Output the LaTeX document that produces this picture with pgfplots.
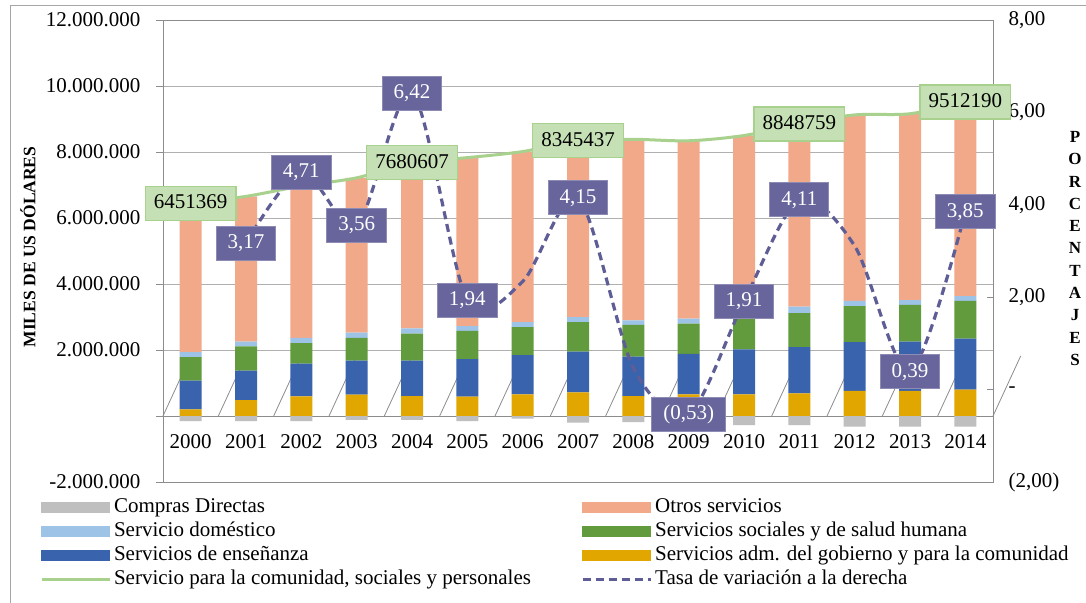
\documentclass[border=0pt]{standalone}
\usepackage{pgfplots}
\usepackage{pgfplotstable}
\pgfplotsset{compat=1.18}
\usepackage{fontspec}
\setmainfont{Liberation Serif}
\definecolor{cgray}{HTML}{BFBFBF}
\definecolor{corange}{HTML}{F1A98A}
\definecolor{cltblue}{HTML}{9DC3E6}
\definecolor{cgreen}{HTML}{629A3E}
\definecolor{cblue}{HTML}{3A63AD}
\definecolor{cyellow}{HTML}{E2A600}
\definecolor{cline}{HTML}{A9D18E}
\definecolor{cpurple}{HTML}{5F5D96}
\definecolor{cpurplebox}{HTML}{67659B}
\definecolor{cgreenbox}{HTML}{C5E0B4}
\definecolor{cgrid}{HTML}{B0B0B0}
\definecolor{caxis}{HTML}{8C8C8C}
\definecolor{cframe}{HTML}{A6A6A6}
\newcommand\tickfont{\fontsize{21bp}{24bp}\selectfont}
\newcommand\labfont{\fontsize{21bp}{24bp}\selectfont}

\pgfplotstableread{
x yel blu grn lbl ora cd tot
0 202000 869000 717000 151000 4512369 -152000 6451369
1 485000 889000 737000 141000 4403877 -152000 6655877
2 596000 990000 626000 152000 4605369 -152000 6969369
3 646000 1031000 687000 161000 4692479 -121000 7217479
4 606000 1071000 818000 162000 5023607 -121000 7680607
5 586000 1141000 849000 151000 5102611 -152000 7829611
6 657000 1191000 849000 151000 5164902 -81000 8012902
7 717000 1232000 899000 152000 5345437 -202000 8345437
8 606000 1192000 960000 141000 5485575 -182000 8384575
9 657000 1222000 919000 151000 5391137 -182000 8340137
10 657000 1364000 1000000 150000 5328433 -273000 8499433
11 687000 1404000 1030000 192000 5535759 -273000 8848759
12 758000 1484000 1091000 152000 5638964 -323000 9123964
13 758000 1495000 1111000 151000 5644547 -323000 9159547
14 798000 1545000 1142000 151000 5876190 -323000 9512190
}\datatab

\pgfplotstableread{
x tot lab
0 6451369 6451369
4 7680607 7680607
7 8345437 8345437
11 8848759 8848759
14 9512190 9512190
}\totlabels

\pgfplotstableread{
x r
1 3.17
2 4.71
3 3.56
4 6.42
5 1.94
6 2.34
7 4.15
8 0.47
9 -0.53
10 1.91
11 4.11
12 3.11
13 0.39
14 3.85
}\rates

\pgfplotstableread{
x r lab
1 3.17 3,17
2 4.71 4,71
3 3.56 3,56
4 6.42 6,42
5 1.94 1,94
7 4.15 4,15
9 -0.53 (0,53)
10 1.91 1,91
11 4.11 4,11
13 0.39 0,39
14 3.85 3,85
}\ratelabels

\pgfplotsset{
  base/.style={scale only axis, width=830bp, height=462bp, at={(163bp,-482bp)},
    anchor=south west, xmin=-0.5, xmax=14.5, clip=false, scaled y ticks=false},
  every non boxed y axis/.append style={y axis line style=-},
  every non boxed x axis/.append style={x axis line style=-},
}

\begin{document}
\begin{tikzpicture}
\useasboundingbox (0,0) rectangle (1086bp,-603bp);
\fill[white] (0,0) rectangle (1086bp,-603bp);
\draw[cframe, line width=1bp] (10bp,-610bp) -- (10bp,-5bp) -- (1095bp,-5bp);

% main stacked bars
\begin{axis}[base, ymin=-2000000, ymax=12000000, ybar stacked, bar width=22bp,
  ytick={-2000000,0,2000000,4000000,6000000,8000000,10000000,12000000},
  yticklabels={-2.000.000,{},2.000.000,4.000.000,6.000.000,8.000.000,10.000.000,12.000.000},
  ymajorgrids, grid style={cgrid, line width=0.8bp},
  ytick pos=left, xtick pos=bottom, tick align=outside, major tick length=7bp,
  xtick={0,...,14},
  xticklabels={2000,2001,2002,2003,2004,2005,2006,2007,2008,2009,2010,2011,2012,2013,2014},
  xtick style={draw=none},
  xticklabel style={anchor=center, yshift=47bp},
  yticklabel style={xshift=-12bp},
  axis line style={caxis, line width=0.8bp}, tick style={caxis, line width=0.8bp},
  every tick label/.append style={font=\tickfont},
  ylabel={MILES DE US DÓLARES},
  ylabel style={at={(axis description cs:-0.16265,0.5087)}, anchor=center,
    font=\fontsize{17.5bp}{20bp}\selectfont\bfseries},
]
\addplot[fill=cyellow, draw=none] table[x=x,y=yel]{\datatab};
\addplot[fill=cblue, draw=none] table[x=x,y=blu]{\datatab};
\addplot[fill=cgreen, draw=none] table[x=x,y=grn]{\datatab};
\addplot[fill=cltblue, draw=none] table[x=x,y=lbl]{\datatab};
\addplot[fill=corange, draw=none] table[x=x,y=ora]{\datatab};
\draw[caxis, line width=1bp] (axis cs:-0.5,0) -- (axis cs:14.5,0);
\pgfplotsinvokeforeach{-0.5,0.5,1.5,2.5,3.5,4.5,5.5,6.5,7.5,8.5,9.5,10.5,11.5,12.5,13.5,14.5}{
  \draw[caxis, line width=0.8bp] (axis cs:#1,0) -- ++(0,-6bp);}
\end{axis}

% compras directas + total line
\begin{axis}[base, ymin=-2000000, ymax=12000000, hide axis]
\addplot[ybar, bar width=22bp, bar shift=0pt, fill=cgray, draw=none] table[x=x,y=cd]{\datatab};
\addplot[smooth, cline, line width=3bp, mark=none] table[x=x,y=tot]{\datatab};
\end{axis}

% right axis: rates
\begin{axis}[base, ymin=-2, ymax=8, axis y line*=right, axis x line=none,
  ytick={-2,0,2,4,6,8},
  yticklabels={{(2,00)},{-},{2,00},{4,00},{6,00},{8,00}},
  tick align=inside, major tick length=6bp,
  axis line style={caxis, line width=0.8bp}, tick style={caxis, line width=0.8bp},
  yticklabel style={anchor=west, xshift=12bp, font=\tickfont},
  ylabel={P\\O\\R\\C\\E\\N\\T\\A\\J\\E\\S},
  ylabel style={rotate=-90, align=center, at={(axis description cs:1,0.5054)},
    anchor=center, xshift=82bp, font=\fontsize{17bp}{22.3bp}\selectfont\bfseries},
  legend columns=2, legend cell align=left,
  legend style={draw=none, fill=none, at={(axis description cs:-0.1484,-0.0287)},
    anchor=north west, inner sep=0pt, row sep=0pt, column sep=0pt,
    font=\tickfont,
    nodes={inner sep=3bp, text height=14bp, text depth=4bp},
    /tikz/every even column/.append style={column sep=47bp}},
]
\addplot[smooth, cpurple, line width=3.2bp, dash pattern=on 8bp off 5bp, mark=none, forget plot]
  table[x=x,y=r]{\rates};
\addplot[only marks, mark=none, forget plot, nodes near coords, point meta=explicit symbolic,
  nodes near coords style={anchor=center, fill=cpurplebox, draw=cpurplebox!75!white,
    line width=0.8bp, text=white, inner xsep=11.5bp, inner ysep=8.5bp,
    text height=14bp, text depth=3bp, font=\labfont}]
  table[x=x,y=r,meta=lab]{\ratelabels};
\addlegendimage{legend image code/.code={\fill[cgray] (0bp,-5bp) rectangle (68bp,5bp);}}
\addlegendimage{legend image code/.code={\fill[corange] (0bp,-5bp) rectangle (68bp,5bp);}}
\addlegendimage{legend image code/.code={\fill[cltblue] (0bp,-5bp) rectangle (68bp,5bp);}}
\addlegendimage{legend image code/.code={\fill[cgreen] (0bp,-5bp) rectangle (68bp,5bp);}}
\addlegendimage{legend image code/.code={\fill[cblue] (0bp,-5bp) rectangle (68bp,5bp);}}
\addlegendimage{legend image code/.code={\fill[cyellow] (0bp,-5bp) rectangle (68bp,5bp);}}
\addlegendimage{legend image code/.code={\draw[cline, line width=3bp] (0bp,0bp) -- (68bp,0bp);}}
\addlegendimage{legend image code/.code={\draw[cpurple, line width=3.2bp, dash pattern=on 8bp off 5bp] (0bp,0bp) -- (68bp,0bp);}}
\legend{Compras Directas, Otros servicios, Servicio doméstico,
  Servicios sociales y de salud humana, Servicios de enseñanza,
  Servicios adm. del gobierno y para la comunidad,
  {Servicio para la comunidad, sociales y personales},
  Tasa de variación a la derecha}
\end{axis}

% total labels
\begin{axis}[base, ymin=-2000000, ymax=12000000, hide axis]
\addplot[only marks, mark=none, nodes near coords, point meta=explicit symbolic,
  nodes near coords style={anchor=center, fill=cgreenbox, draw=cline,
    line width=1.2bp, text=black, inner xsep=8.5bp, inner ysep=8.5bp,
    text height=14bp, text depth=3bp, font=\labfont}]
  table[x=x,y=tot,meta=lab]{\totlabels};
\end{axis}
\end{tikzpicture}
\end{document}
